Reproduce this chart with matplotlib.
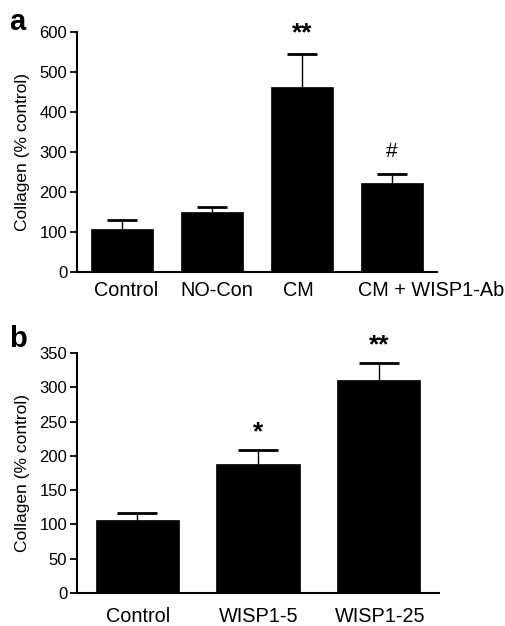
import numpy as np
import matplotlib.pyplot as plt
from matplotlib.transforms import ScaledTranslation

plt.rcParams['font.family'] = ['Liberation Sans', 'DejaVu Sans']

# ---------------- data ----------------
labels_a = ["Control", "NO-Con", "CM", "CM + WISP1-Ab"]
means_a = [108, 150, 462, 222]
errs_a = [22, 12, 82, 23]
marks_a = ["", "", "**", "#"]

labels_b = ["Control", "WISP1-5", "WISP1-25"]
means_b = [107, 188, 311]
errs_b = [9, 20, 24]
marks_b = ["", "*", "**"]

fig = plt.figure(figsize=(5.06, 6.26), dpi=100)

ax_a = fig.add_axes([0.152, 0.566, 0.712, 0.383])
ax_b = fig.add_axes([0.152, 0.053, 0.716, 0.383])


def draw_panel(ax, labels, means, errs, marks, ymax, ystep, capsize, xpad, star_pad, label_shift):
    x = np.arange(len(labels))
    # bars drawn on top so only the upper half of each error bar shows
    ax.bar(x, means, width=0.69, color="black", edgecolor="black", linewidth=0.5, zorder=3)
    ax.errorbar(x, means, yerr=errs, fmt="none", ecolor="black",
                elinewidth=1.0, capsize=capsize, capthick=2.0, zorder=2)
    for xi, m, e, s in zip(x, means, errs, marks):
        if not s:
            continue
        if s == "#":
            ax.annotate(s, xy=(xi, m + e), xytext=(0, 12), textcoords="offset points",
                        ha="center", va="baseline", fontsize=15, annotation_clip=False)
        else:
            ax.annotate(s, xy=(xi, m + e), xytext=(0, star_pad), textcoords="offset points",
                        ha="center", va="baseline", fontsize=19, fontweight="bold",
                        annotation_clip=False)
    ax.set_xlim(-0.5, len(labels) - 0.5)
    ax.set_ylim(0, ymax)
    ax.set_yticks(np.arange(0, ymax + 1, ystep))
    ax.set_xticks(x)
    ax.set_xticklabels(labels, fontsize=14.3)
    ax.tick_params(axis="x", length=0, pad=xpad)
    ax.tick_params(axis="y", direction="out", length=5, width=1.3, pad=2, labelsize=12)
    # nudge tick labels horizontally (in pixels) as in the original
    for lab, dx in zip(ax.get_xticklabels(), label_shift):
        lab.set_transform(lab.get_transform() + ScaledTranslation(dx / 100, 0, fig.dpi_scale_trans))
    for side in ["top", "right"]:
        ax.spines[side].set_visible(False)
    for side in ["left", "bottom"]:
        ax.spines[side].set_linewidth(1.5)
    ax.set_ylabel("Collagen (% control)", fontsize=12.5, labelpad=7)


draw_panel(ax_a, labels_a, means_a, errs_a, marks_a, 600, 100, 10.8, 7, 10, [4, 5, -4, 39])
draw_panel(ax_b, labels_b, means_b, errs_b, marks_b, 350, 50, 14.4, 10, 8, [1, 1, 1])

fig.text(0.018, 0.952, "a", fontsize=21, fontweight="bold", va="baseline")
fig.text(0.018, 0.446, "b", fontsize=21, fontweight="bold", va="baseline")

fig.savefig("out.png", dpi=100)
